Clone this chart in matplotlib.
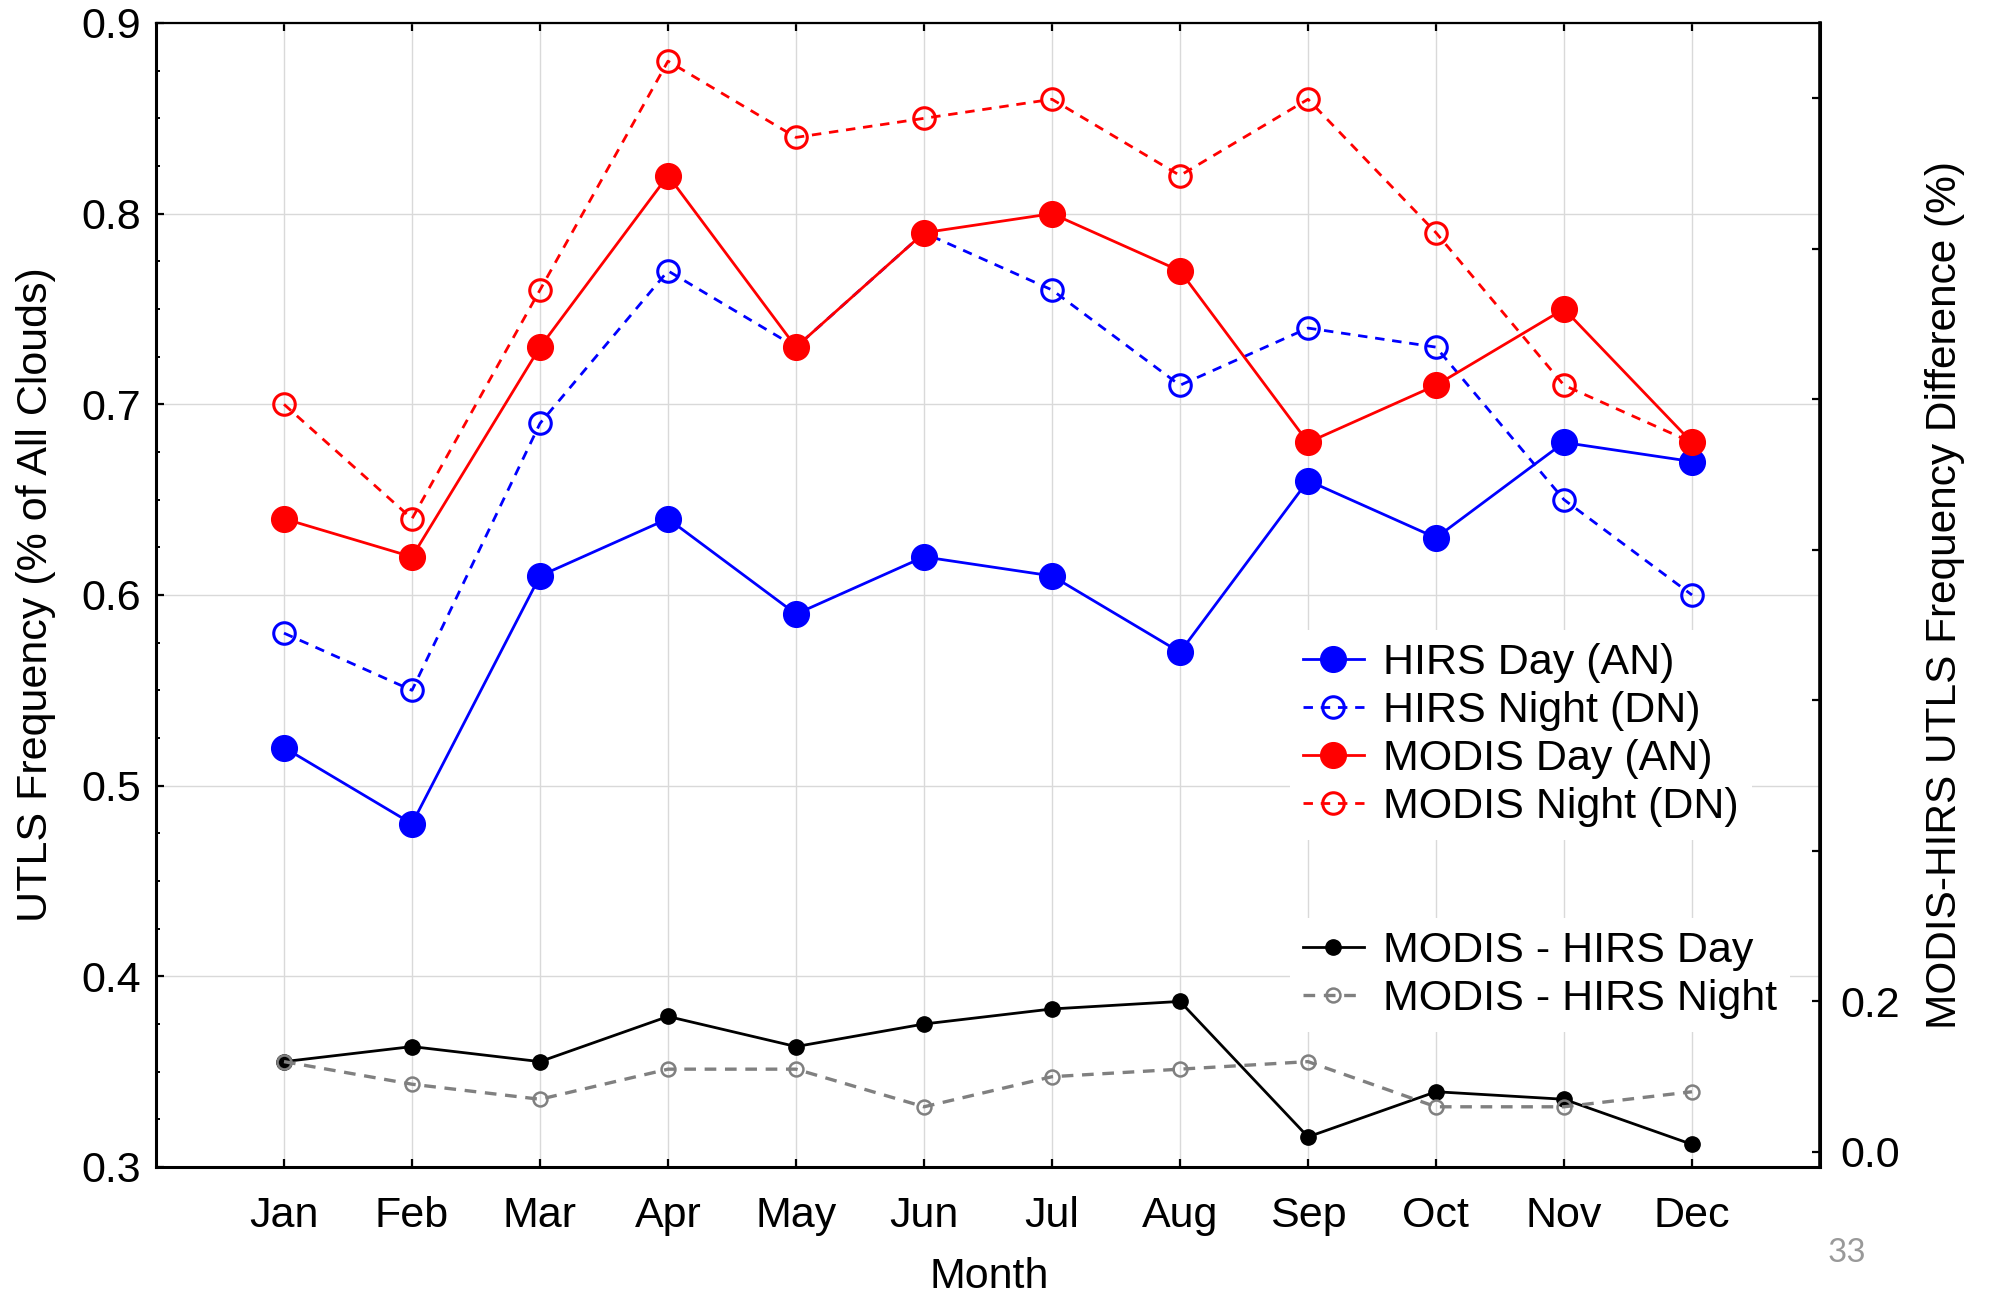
import matplotlib
matplotlib.use("Agg")
import matplotlib.pyplot as plt
from matplotlib.ticker import MultipleLocator, FixedLocator, FixedFormatter, FormatStrFormatter

plt.rcParams["font.family"] = ["Liberation Sans", "DejaVu Sans"]

# Monthly UTLS cloud frequencies
months = ["Jan", "Feb", "Mar", "Apr", "May", "Jun",
          "Jul", "Aug", "Sep", "Oct", "Nov", "Dec"]
hirs_day = [0.52, 0.48, 0.61, 0.64, 0.59, 0.62, 0.61, 0.57, 0.66, 0.63, 0.68, 0.67]
hirs_night = [0.58, 0.55, 0.69, 0.77, 0.73, 0.79, 0.76, 0.71, 0.74, 0.73, 0.65, 0.60]
modis_day = [0.64, 0.62, 0.73, 0.82, 0.73, 0.79, 0.80, 0.77, 0.68, 0.71, 0.75, 0.68]
modis_night = [0.70, 0.64, 0.76, 0.88, 0.84, 0.85, 0.86, 0.82, 0.86, 0.79, 0.71, 0.68]

# MODIS minus HIRS differences (right axis)
diff_day = [0.12, 0.14, 0.12, 0.18, 0.14, 0.17, 0.19, 0.20, 0.02, 0.08, 0.07, 0.01]
diff_night = [0.12, 0.09, 0.07, 0.11, 0.11, 0.06, 0.10, 0.11, 0.12, 0.06, 0.06, 0.08]

right_ticks = [0.0, 0.2, 0.4, 0.6, 0.8, 1.0, 1.2, 1.4]
right_tick_labels = ["0.0", "0.2", "", "", "", "", "", ""]

FS = 31
W, H = 1993, 1301
fig = plt.figure(figsize=(W / 100, H / 100), dpi=100)
left, right, top, bottom = 156, 1820, 23, 1167
ax = fig.add_axes([left / W, 1 - bottom / H, (right - left) / W, (bottom - top) / H])

x = list(range(1, len(months) + 1))
BLUE = "#0000ff"
RED = "#ff0000"
dash = (0, (3.4, 2.8))

l1, = ax.plot(x, hirs_day, color=BLUE, lw=2.0, marker="o", ms=18.5,
              mfc=BLUE, mec=BLUE, label="HIRS Day (AN)", zorder=3)
l2, = ax.plot(x, hirs_night, color=BLUE, lw=2.0, ls=dash, marker="o", ms=15.5,
              mfc="none", mec=BLUE, mew=2.2, label="HIRS Night (DN)", zorder=3)
l3, = ax.plot(x, modis_day, color=RED, lw=2.0, marker="o", ms=18.5,
              mfc=RED, mec=RED, label="MODIS Day (AN)", zorder=4)
l4, = ax.plot(x, modis_night, color=RED, lw=2.0, ls=dash, marker="o", ms=15.5,
              mfc="none", mec=RED, mew=2.2, label="MODIS Night (DN)", zorder=4)

ax.set_xlim(0, 13)
ax.set_ylim(0.3, 0.9)
ax.set_xticks(x)
ax.set_xticklabels(months)
ax.yaxis.set_major_locator(MultipleLocator(0.1))
ax.yaxis.set_minor_locator(MultipleLocator(0.025))
ax.yaxis.set_major_formatter(FormatStrFormatter("%.1f"))
ax.grid(True, which="major", color="#d9d9d9", lw=1.0)
ax.set_axisbelow(True)

ax.tick_params(axis="x", which="major", direction="in", length=6, width=1.6,
               top=True, labelsize=FS, pad=21)
ax.tick_params(axis="y", which="major", direction="in", length=6, width=1.6,
               right=False, labelsize=FS, pad=11)
ax.tick_params(axis="y", which="minor", direction="in", length=3, width=1.4, right=False)

for side in ["left", "bottom", "right"]:
    ax.spines[side].set_linewidth(2.2)
ax.spines["top"].set_linewidth(1.6)

# Difference curves on a secondary axis
ax2 = ax.twinx()
l5, = ax2.plot(x, diff_day, color="black", lw=2.0, marker="o", ms=11,
               mfc="black", mec="black", label="MODIS - HIRS Day", zorder=3)
l6, = ax2.plot(x, diff_night, color="#808080", lw=2.4, ls=(0, (3.5, 2.6)), marker="o",
               ms=10, mfc="none", mec="#808080", mew=1.8,
               label="MODIS - HIRS Night", zorder=4)
ax2.set_ylim(-0.02, 1.5)
ax2.yaxis.set_major_locator(FixedLocator(right_ticks))
ax2.yaxis.set_major_formatter(FixedFormatter(right_tick_labels))
ax2.tick_params(axis="y", direction="in", length=6, width=1.6, labelsize=FS, pad=15)
for side in ["left", "bottom", "top"]:
    ax2.spines[side].set_visible(False)
ax2.spines["right"].set_linewidth(2.6)

# Axis titles
fig.text(36 / W, 1 - 595 / H, "UTLS Frequency (% of All Clouds)", rotation=90,
         ha="center", va="center", fontsize=FS)
fig.text(1945 / W, 1 - 595 / H, "MODIS-HIRS UTLS Frequency Difference (%)",
         rotation=90, ha="center", va="center", fontsize=30.5)
fig.text(989 / W, 1 - 1277 / H, "Month", ha="center", va="center", fontsize=FS)

legend_kw = dict(loc="upper left", fontsize=FS, handlelength=1.42, handletextpad=0.45,
                 labelspacing=0.19, borderpad=0.3, borderaxespad=0, frameon=True,
                 facecolor="white", edgecolor="none", framealpha=1, fancybox=False,
                 numpoints=1)
fig.legend(handles=[l1, l2, l3, l4], bbox_to_anchor=(1290 / W, 1 - 630 / H), **legend_kw)
fig.legend(handles=[l5, l6], bbox_to_anchor=(1290 / W, 1 - 918 / H), **legend_kw)

fig.text(1847 / W, 1 - 1253 / H, "33", ha="center", va="center", fontsize=24,
         color="#999999", family=["Lato", "DejaVu Sans"])

fig.savefig("out.png", dpi=100, facecolor="white")
